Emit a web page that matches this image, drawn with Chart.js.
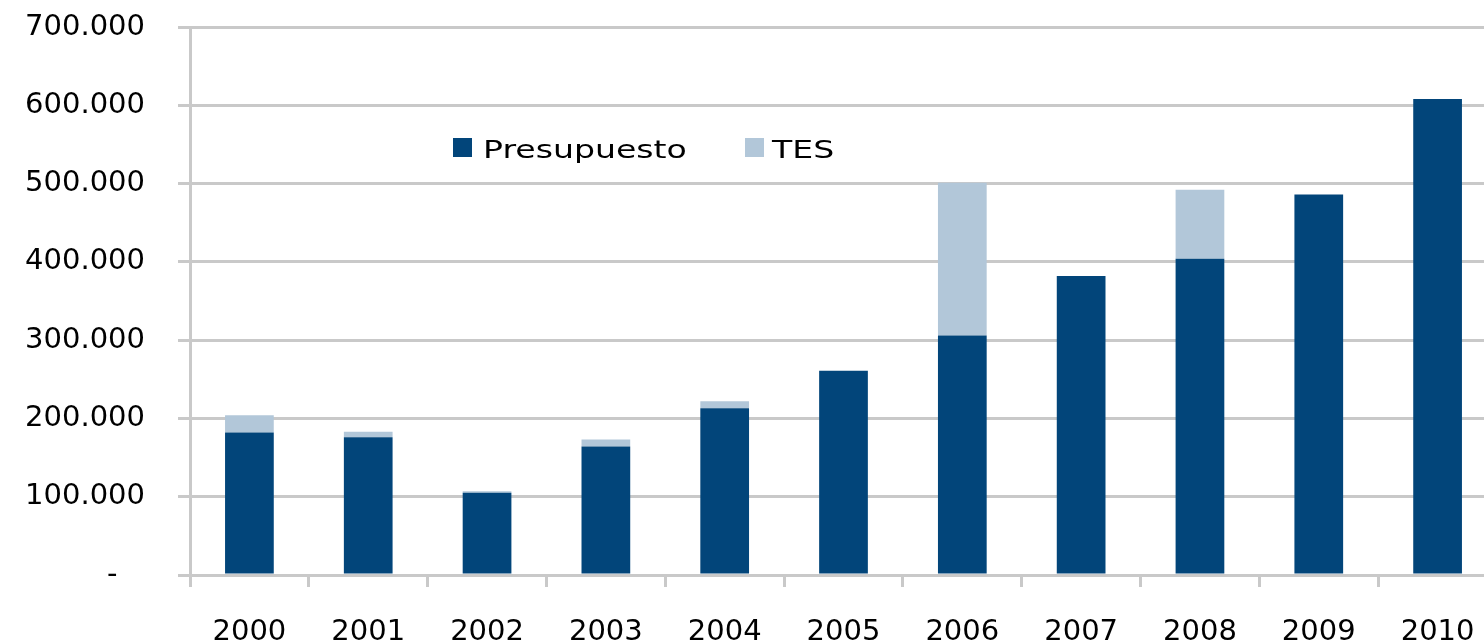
<!DOCTYPE html>
<html>
<head>
<meta charset="utf-8">
<script src="https://cdn.jsdelivr.net/npm/chart.js@4"></script>
<style>
  html, body { margin: 0; padding: 0; background: #fff; overflow: hidden; }
  #wrap { position: relative; width: 1497px; height: 656px; }
  #legend {
    position: absolute; left: 453px; top: 131px;
    font-family: "DejaVu Sans", Verdana, sans-serif; font-size: 24px; color: #000;
    white-space: nowrap;
  }
  #legend span.item { position: absolute; top: 0; display: block; }
  #legend i { position: absolute; top: 7px; width: 19px; height: 19px; display: block; }
  #legend b { position: absolute; top: 5px; font-weight: normal; display: block; transform-origin: 0 0; transform: scaleX(1.38); }
</style>
</head>
<body>
<div id="wrap">
  <canvas id="myChart"></canvas>
  <div id="legend">
    <span class="item" style="left:0"><i style="left:0;background:#02457a"></i><b style="left:30px">Presupuesto</b></span>
    <span class="item" style="left:292px"><i style="left:0;background:#b2c7d9"></i><b style="left:27px">TES</b></span>
  </div>
</div>
<script>
// values
const years = ["2000", "2001", "2002", "2003", "2004", "2005", "2006", "2007", "2008", "2009", "2010"];
const presupuesto = [182000, 176000, 105000, 164000, 213000, 261000, 306000, 382000, 404000, 486000, 608000];
const tes = [22000, 7000, 2000, 9000, 9000, 0, 195000, 0, 88000, 0, 0];
const yTicks = [0, 100000, 200000, 300000, 400000, 500000, 600000, 700000];

const darkBlue = "#02457a";
const lightBlue = "#b2c7d9";
const gridGray = "#c9c9c9";
const tickFont = { family: "'DejaVu Sans', Verdana, sans-serif", size: 29 };

function fmt(v) {
  if (v === 0) return "-   ";
  return String(v).replace(/\B(?=(\d{3})+(?!\d))/g, ".");
}

const ctx = document.getElementById("myChart").getContext("2d");
const myChart = new Chart(ctx, {
  type: "bar",
  data: {
    labels: years,
    datasets: [
      {
        label: "Presupuesto",
        data: presupuesto,
        backgroundColor: darkBlue,
        borderWidth: 0,
        categoryPercentage: 1,
        barPercentage: 0.41,
      },
      {
        label: "TES",
        data: tes,
        backgroundColor: lightBlue,
        borderWidth: 0,
        categoryPercentage: 1,
        barPercentage: 0.41,
      },
    ],
  },
  options: {
    responsive: true,
    maintainAspectRatio: false,
    animation: false,
    layout: { padding: { top: 27, right: 0, left: 0, bottom: 0 } },
    plugins: {
      legend: { display: false },
      tooltip: { enabled: false },
    },
    scales: {
      x: {
        stacked: true,
        grid: {
          display: true,
          drawOnChartArea: false,
          drawTicks: true,
          tickLength: 12,
          tickWidth: 3,
          tickColor: gridGray,
          offset: true,
        },
        border: { display: true, color: gridGray, width: 3 },
        ticks: { color: "#000", font: tickFont, padding: 28, maxRotation: 0, autoSkip: false },
        afterFit: (scale) => {
          scale.height = 656 - 575;
          scale.paddingLeft = 0;
          scale.paddingRight = 0;
        },
      },
      y: {
        stacked: true,
        min: 0,
        max: 700000,
        afterBuildTicks: (scale) => { scale.ticks = yTicks.map((v) => ({ value: v })); },
        grid: {
          color: gridGray,
          lineWidth: 3,
          drawTicks: true,
          tickLength: 12,
          tickColor: gridGray,
        },
        border: { display: true, color: gridGray, width: 3 },
        ticks: {
          color: "#000",
          font: tickFont,
          padding: 33,
          callback: (v) => fmt(v),
        },
        afterFit: (scale) => {
          scale.width = 190;
          scale.paddingTop = 0;
          scale.paddingBottom = 0;
        },
      },
    },
  },
});
</script>
</body>
</html>
